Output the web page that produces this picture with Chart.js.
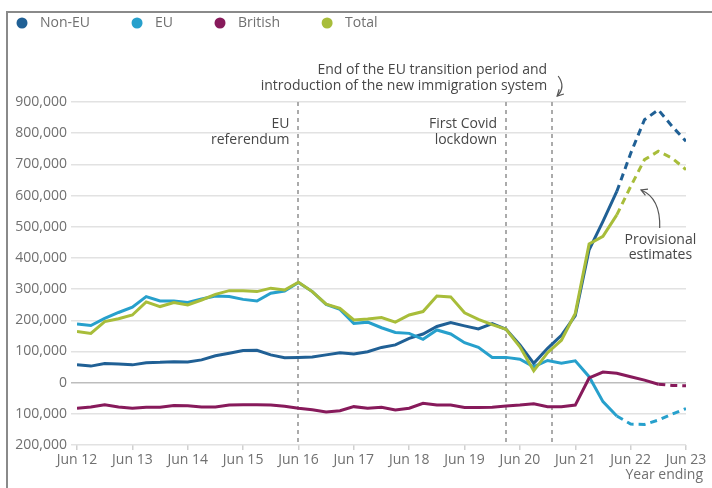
<!DOCTYPE html>
<html>
<head>
<meta charset="utf-8">
<script src="https://cdn.jsdelivr.net/npm/chart.js@4.4.1/dist/chart.umd.min.js"></script>
<style>
  body { margin: 0; background: #fff; }
  #wrap { width: 712px; height: 488px; }
</style>
</head>
<body>
<div id="wrap"><canvas id="migrationChart" width="712" height="488"></canvas></div>
<script>
// Year ending, quarterly
const quarters = [
    'Jun 12', 'Sep 12', 'Dec 12', 'Mar 13', 'Jun 13', 'Sep 13', 'Dec 13', 'Mar 14',
    'Jun 14', 'Sep 14', 'Dec 14', 'Mar 15', 'Jun 15', 'Sep 15', 'Dec 15', 'Mar 16',
    'Jun 16', 'Sep 16', 'Dec 16', 'Mar 17', 'Jun 17', 'Sep 17', 'Dec 17', 'Mar 18',
    'Jun 18', 'Sep 18', 'Dec 18', 'Mar 19', 'Jun 19', 'Sep 19', 'Dec 19', 'Mar 20',
    'Jun 20', 'Sep 20', 'Dec 20', 'Mar 21', 'Jun 21', 'Sep 21', 'Dec 21', 'Mar 22',
    'Jun 22', 'Sep 22', 'Dec 22', 'Mar 23', 'Jun 23'
];

// Net migration, thousands
const nonEu = [
    57, 53, 61, 60, 57, 64, 65, 67, 66, 73, 86, 94, 103, 104, 89, 80,
    81, 82, 89, 96, 92, 99, 113, 121, 142, 156, 180, 193, 182, 172, 189, 171,
    121, 62, 110, 152, 215, 426, 517, 613, 735, 843, 875, 822, 774
];
const eu = [
    188, 183, 206, 225, 242, 276, 262, 262, 257, 268, 278, 276, 267, 262, 287, 294,
    321, 292, 251, 235, 190, 194, 176, 161, 158, 139, 169, 156, 128, 113, 81, 81,
    75, 51, 71, 62, 70, 19, -61, -107, -133, -134, -120, -101, -83
];
const british = [
    -82, -78, -71, -78, -82, -79, -79, -73, -74, -78, -78, -72, -71, -71, -72, -76,
    -82, -87, -94, -90, -77, -82, -79, -88, -82, -66, -72, -72, -80, -80, -79, -75,
    -72, -68, -77, -77, -72, 15, 34, 30, 19, 8, -5, -9, -10
];
const total = [
    164, 158, 196, 205, 217, 259, 244, 257, 249, 265, 283, 295, 295, 292, 303, 297,
    322, 292, 252, 238, 201, 204, 209, 194, 217, 228, 278, 275, 224, 203, 186, 171,
    115, 38, 96, 136, 222, 445, 469, 538, 629, 715, 742, 720, 683
];

// Index where each series turns into provisional (dashed) estimates
const provisionalFrom = [39, 39, 42, 39];

const seriesNames = ['Non-EU', 'EU', 'British', 'Total'];
const seriesColors = ['#206095', '#27a0cc', '#871a5b', '#a8bd3a'];

// Vertical markers (position in quarters from Jun 12)
const events = [
    { at: 16, lines: ['EU', 'referendum'] },
    { at: 31, lines: ['First Covid', 'lockdown'] },
    { at: 34.33, lines: ['End of the EU transition period and', 'introduction of the new immigration system'] }
];

const fontFamily = "'Open Sans', sans-serif";
const tickGrey = '#707070';
const noteGrey = '#474747';

function toPoints(values) {
    return values.map((v, i) => ({ x: i, y: v * 1000 }));
}

const allSeries = [nonEu, eu, british, total];
const datasets = allSeries.map((values, i) => ({
    label: seriesNames[i],
    data: toPoints(values),
    borderColor: seriesColors[i],
    backgroundColor: seriesColors[i],
    borderWidth: 3,
    pointRadius: 0,
    tension: 0,
    order: 4 - i, // Total on top
    segment: {
        borderDash: ctx => ctx.p0DataIndex >= provisionalFrom[i] ? [7, 5] : undefined
    }
}));

// two short strokes meeting at (x, y), opening towards `angle`
function drawArrowHead(ctx, x, y, angle) {
    const len = 7;
    ctx.beginPath();
    ctx.moveTo(x + len * Math.cos(angle - 0.5), y + len * Math.sin(angle - 0.5));
    ctx.lineTo(x, y);
    ctx.lineTo(x + len * Math.cos(angle + 0.5), y + len * Math.sin(angle + 0.5));
    ctx.stroke();
}

// Legend, event markers, notes and frame
const chartDecor = {
    id: 'chartDecor',
    beforeDatasetsDraw(chart) {
        const { ctx, chartArea, scales: { x } } = chart;
        ctx.save();
        ctx.strokeStyle = '#ababab';
        ctx.lineWidth = 2;
        ctx.setLineDash([4, 4]);
        events.forEach(ev => {
            const px = Math.round(x.getPixelForValue(ev.at));
            ctx.beginPath();
            ctx.moveTo(px, chartArea.top);
            ctx.lineTo(px, chartArea.bottom);
            ctx.stroke();
        });
        ctx.restore();
    },
    afterDraw(chart) {
        const { ctx, chartArea, scales: { x, y } } = chart;
        ctx.save();

        // frame
        ctx.fillStyle = '#8a8a8a';
        ctx.fillRect(6, 11, 2, chart.height - 11);
        ctx.fillRect(6, 11, chart.width - 6, 2);

        // legend
        ctx.font = '14px ' + fontFamily;
        ctx.textBaseline = 'middle';
        ctx.textAlign = 'left';
        let lx = 22;
        seriesNames.forEach((name, i) => {
            ctx.fillStyle = seriesColors[i];
            ctx.beginPath();
            ctx.arc(lx, 23, 5.5, 0, Math.PI * 2);
            ctx.fill();
            ctx.fillStyle = tickGrey;
            ctx.fillText(name, lx + 18, 23);
            lx += 18 + ctx.measureText(name).width + 47;
        });

        // event notes
        ctx.fillStyle = noteGrey;
        ctx.textAlign = 'right';
        ctx.strokeStyle = '#555';
        ctx.lineWidth = 1.2;
        events.forEach((ev, k) => {
            const px = x.getPixelForValue(ev.at);
            if (k < 2) {
                ctx.fillText(ev.lines[0], px - 9, chartArea.top + 22);
                ctx.fillText(ev.lines[1], px - 9, chartArea.top + 38);
            } else {
                ctx.fillText(ev.lines[0], px - 5, chartArea.top - 32);
                ctx.fillText(ev.lines[1], px - 5, chartArea.top - 16);
                // little curved arrow pointing at the marker
                ctx.beginPath();
                ctx.moveTo(px + 6, chartArea.top - 26);
                ctx.quadraticCurveTo(px + 14, chartArea.top - 15, px + 5, chartArea.top - 6);
                ctx.stroke();
                drawArrowHead(ctx, px + 5, chartArea.top - 6, -Math.PI / 4);
            }
        });

        // provisional estimates note
        const nx = x.getPixelForValue(42.15);
        ctx.textAlign = 'center';
        ctx.fillText('Provisional', nx, y.getPixelForValue(457000));
        ctx.fillText('estimates', nx, y.getPixelForValue(409000));
        const ax0 = x.getPixelForValue(42.1), ay0 = y.getPixelForValue(496000);
        const ax1 = x.getPixelForValue(40.75), ay1 = y.getPixelForValue(618000);
        const cx = ax0 + 1, cy = ay1 + 8;
        ctx.beginPath();
        ctx.moveTo(ax0, ay0);
        ctx.quadraticCurveTo(cx, cy, ax1, ay1);
        ctx.stroke();
        drawArrowHead(ctx, ax1, ay1, Math.atan2(cy - ay1, cx - ax1));

        // axis caption
        ctx.fillStyle = tickGrey;
        ctx.textAlign = 'right';
        ctx.fillText('Year ending', 703, 475);
        ctx.restore();
    }
};

new Chart(document.getElementById('migrationChart'), {
    type: 'line',
    data: { datasets },
    options: {
        responsive: false,
        animation: false,
        layout: { padding: { top: 102, right: 26, left: 0, bottom: 0 } },
        plugins: {
            legend: { display: false },
            tooltip: { enabled: false }
        },
        scales: {
            x: {
                type: 'linear',
                min: 0,
                max: quarters.length - 1,
                afterFit: scale => { scale.height = 43; },
                ticks: {
                    stepSize: 4,
                    autoSkip: false,
                    maxRotation: 0,
                    padding: 2,
                    color: tickGrey,
                    font: { family: fontFamily, size: 14 },
                    callback: v => (v % 4 === 0 ? quarters[v] : '')
                },
                grid: {
                    drawOnChartArea: false,
                    drawTicks: true,
                    tickLength: 5,
                    color: '#d0d0d0',
                    lineWidth: 1.5
                },
                border: { display: false }
            },
            y: {
                min: -200000,
                max: 900000,
                afterFit: scale => { scale.width = 77; },
                ticks: {
                    stepSize: 100000,
                    padding: 4,
                    color: tickGrey,
                    font: { family: fontFamily, size: 14 },
                    callback: v => Math.abs(v).toLocaleString('en-GB')
                },
                grid: {
                    tickLength: 6,
                    lineWidth: 1.5,
                    color: ctx => (ctx.tick && ctx.tick.value === 0 ? '#bdbdbd' : '#e2e2e2')
                },
                border: { display: false }
            }
        }
    },
    plugins: [chartDecor]
});
</script>
</body>
</html>
